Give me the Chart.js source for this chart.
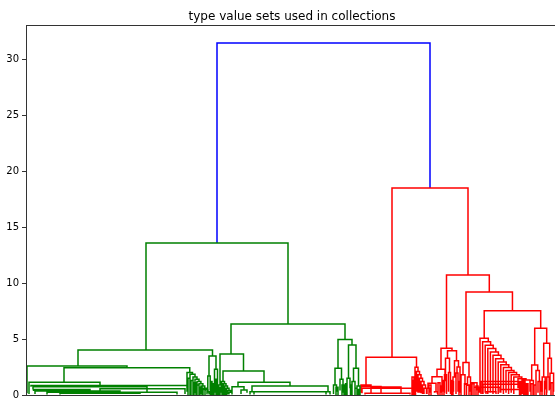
<!DOCTYPE html>
<html>
<head>
<meta charset="utf-8">
<script src="https://cdn.jsdelivr.net/npm/chart.js@4"></script>
<style>
  html, body { margin: 0; padding: 0; overflow: hidden; background: #fff; }
</style>
</head>
<body>
<canvas id="dendro" width="560" height="420"></canvas>
<script>
const chartTitle = "type value sets used in collections";
const yTicks = [0, 5, 10, 15, 20, 25, 30];

// each link: [xLeft, xRight, heightLeft, heightRight, heightTop]
const blueLinks = [
  [191, 404, 13.58, 18.5, 31.46]
];

const greenLinks = [
  [120, 262, 4.02, 6.35, 13.58],
  [52, 186.5, 2.59, 3.49, 4.02],
  [205, 319, 3.66, 4.97, 6.35],
  [1, 101, 0.15, 2.44, 2.59],
  [38, 163.75, 1.13, 2.0, 2.44],
  [3, 74, 0.1, 0.86, 1.13],
  [5, 162, 0.74, 0.3, 0.86],
  [7, 121, 0.5, 0.2, 0.74],
  [7.5, 64, 0.36, 0.15, 0.5],
  [9, 94, 0.1, 0.1, 0.36],
  [21, 151, 0.05, 0.05, 0.25],
  [74, 159, 0.1, 0.1, 0.55],
  [34, 114, 0.05, 0.1, 0.15],
  [161, 166.5, 0.3, 1.85, 2.0],
  [164, 169, 0.2, 1.6, 1.85],
  [167, 171, 0.2, 1.4, 1.6],
  [169, 173, 0.15, 1.2, 1.4],
  [171, 174.9, 0.15, 1.0, 1.2],
  [173, 176.9, 0.1, 0.8, 1.0],
  [175, 178.75, 0.1, 0.6, 0.8],
  [177, 180.5, 0.1, 0.45, 0.6],
  [179, 182, 0.1, 0.3, 0.45],
  [181, 183, 0.05, 0.05, 0.3],
  [162, 164, 0, 0, 1.5],
  [165, 167, 0, 0, 1.3],
  [168, 170, 0, 0, 1.1],
  [171, 173, 0, 0, 0.9],
  [174, 176, 0, 0, 0.7],
  [177, 179, 0, 0, 0.5],
  [183, 190, 1.7, 2.3, 3.49],
  [181.8, 184.2, 0.2, 0.4, 1.7],
  [188.5, 191.5, 0.8, 0.3, 2.3],
  [187.5, 189.5, 0.1, 0.2, 0.8],
  [184.5, 186, 0, 0, 1.2],
  [186.5, 188, 0, 0, 1.0],
  [190, 191.5, 0, 0, 1.4],
  [192.5, 194, 0, 0, 0.7],
  [196, 197.5, 0, 0, 0.9],
  [199, 200.5, 0, 0, 0.5],
  [194, 217.5, 0.9, 2.14, 3.66],
  [192.5, 195.5, 0.2, 0.4, 0.9],
  [197, 238, 1.2, 1.15, 2.14],
  [195.5, 198.5, 0.2, 1.0, 1.2],
  [197, 200, 0.15, 0.8, 1.0],
  [198.5, 201.5, 0.1, 0.6, 0.8],
  [200, 203, 0.1, 0.4, 0.6],
  [201.5, 204.5, 0.05, 0.25, 0.4],
  [203, 206, 0.05, 0.05, 0.25],
  [212, 264, 0.74, 0.8, 1.15],
  [206, 218, 0.2, 0.45, 0.74],
  [215, 221, 0.1, 0.2, 0.45],
  [226, 302, 0.3, 0.3, 0.8],
  [224, 228, 0.05, 0.1, 0.3],
  [300, 304, 0.1, 0.05, 0.3],
  [228, 300, 0.05, 0.05, 0.28],
  [312, 326, 2.38, 4.47, 4.97],
  [309, 315.5, 0.9, 1.4, 2.38],
  [307.5, 310.5, 0.1, 0.3, 0.9],
  [314, 317, 0.4, 0.2, 1.4],
  [322.5, 330, 1.5, 2.38, 4.47],
  [321, 324, 0.3, 0.6, 1.5],
  [327.5, 332.5, 1.2, 0.8, 2.38],
  [326, 329, 0.2, 0.4, 1.2],
  [331, 334, 0.3, 0.1, 0.8],
  [318.5, 320.5, 0.1, 0.1, 0.9],
  [310, 312, 0, 0, 0.7],
  [316, 318, 0, 0, 0.9],
  [319.5, 321, 0, 0, 1.0],
  [324.5, 326, 0, 0, 0.9],
  [329, 331, 0, 0, 0.6],
  [332.5, 334, 0, 0, 0.5]
];

const redLinks = [
  [366, 442, 3.37, 10.72, 18.5],
  [340, 390.5, 0.9, 2.47, 3.37],
  [335, 345, 0.2, 0.75, 0.9],
  [335, 355, 0.6, 0.1, 0.75],
  [336, 386, 0.15, 0.15, 0.6],
  [339, 384, 0.05, 0.05, 0.15],
  [345, 375, 0.1, 0.1, 0.72],
  [389, 392, 0.3, 2.1, 2.47],
  [390.5, 393.5, 0.3, 1.8, 2.1],
  [392, 395, 0.2, 1.5, 1.8],
  [393.5, 396.5, 0.2, 1.2, 1.5],
  [395, 398, 0.15, 0.9, 1.2],
  [396.5, 399.5, 0.1, 0.6, 0.9],
  [398, 401, 0.1, 0.1, 0.6],
  [386, 388, 0, 0, 1.6],
  [387.5, 389.5, 0, 0, 1.3],
  [420.5, 463.3, 4.17, 9.2, 10.72],
  [415, 426, 2.3, 3.96, 4.17],
  [411, 419, 1.64, 1.3, 2.3],
  [406, 416, 1.05, 0.8, 1.64],
  [402, 410, 0.6, 0.3, 1.05],
  [400.5, 403.5, 0.1, 0.2, 0.6],
  [408.5, 411.5, 0.2, 0.1, 0.3],
  [414.5, 417.5, 0.2, 0.3, 0.8],
  [417.5, 420.5, 0.3, 0.1, 1.3],
  [403, 405, 0, 0, 0.9],
  [412, 414, 0, 0, 1.1],
  [416, 418, 0, 0, 1.0],
  [421.5, 430.5, 3.28, 3.07, 3.96],
  [419.5, 423.5, 1.8, 2.0, 3.28],
  [418.5, 420.5, 0.2, 0.6, 1.8],
  [422.5, 424.5, 0.3, 0.2, 2.0],
  [428.5, 432.5, 1.6, 2.5, 3.07],
  [427, 430, 0.2, 0.5, 1.6],
  [431, 434, 1.96, 0.2, 2.5],
  [430, 432, 0.1, 0.3, 1.96],
  [424.5, 427.5, 0.1, 0.3, 1.2],
  [425.5, 427, 0, 0, 1.3],
  [433, 435, 0, 0, 1.2],
  [440, 486.45, 2.9, 7.53, 9.2],
  [437, 443, 1.8, 1.6, 2.9],
  [435, 439, 0.3, 0.9, 1.8],
  [441.5, 444.5, 0.8, 0.3, 1.6],
  [445, 451, 0.2, 0.4, 1.1],
  [448, 452.5, 0.1, 0.2, 0.7],
  [438.5, 440.5, 0, 0, 1.0],
  [443, 445, 0, 0, 0.9],
  [446, 448, 0, 0, 1.0],
  [450, 452, 0, 0, 0.8],
  [458.2, 514.7, 5.07, 5.96, 7.53],
  [454, 462.3, 0.2, 4.75, 5.07],
  [456.6, 464.6, 0.1, 4.45, 4.75],
  [459.2, 467.2, 0.2, 4.15, 4.45],
  [461.8, 469.8, 0.1, 3.85, 4.15],
  [464.4, 472.4, 0.2, 3.55, 3.85],
  [467, 475, 0.1, 3.25, 3.55],
  [469.6, 477.6, 0.2, 2.95, 3.25],
  [472.2, 480.2, 0.1, 2.7, 2.95],
  [474.8, 482.8, 0.2, 2.45, 2.7],
  [477.4, 485.4, 0.1, 2.2, 2.45],
  [480, 488, 0.2, 2.0, 2.2],
  [482.6, 490.6, 0.1, 1.8, 2.0],
  [485.2, 493.2, 0.2, 1.6, 1.8],
  [487.8, 495.8, 0.1, 1.45, 1.6],
  [492, 500, 0.6, 1.35, 1.45],
  [496, 504, 0.8, 0.5, 1.35],
  [455, 496, 0.1, 0.1, 1.2],
  [457, 494, 0.1, 0.1, 0.95],
  [455, 474, 0.2, 0.2, 0.7],
  [474, 494, 0.2, 0.1, 0.5],
  [460, 470, 0.1, 0.1, 0.3],
  [493.5, 495, 0, 0, 1.1],
  [497.5, 499, 0, 0, 1.2],
  [500.5, 502, 0, 0, 1.0],
  [508.7, 520.7, 2.68, 4.62, 5.96],
  [505.7, 511.7, 1.3, 2.2, 2.68],
  [504, 507.4, 0.3, 0.2, 1.3],
  [510, 513.4, 0.4, 1.2, 2.2],
  [512, 514.8, 0.2, 0.3, 1.2],
  [505, 507, 0, 0, 1.0],
  [508, 510, 0, 0, 0.9],
  [514, 516, 0, 0, 1.1],
  [517.7, 523.7, 1.6, 3.28, 4.62],
  [516.2, 519.2, 0.3, 0.5, 1.6],
  [518.5, 520.5, 0, 0, 1.2],
  [522, 525.4, 1.6, 1.94, 3.28],
  [520.8, 523.2, 0.2, 0.4, 1.6],
  [524, 527.6, 0.5, 0.3, 1.94],
  [525, 527, 0, 0, 1.1]
];

// turn links into U shaped paths, null breaks the line between links
function toPoints(links) {
  const pts = [];
  links.forEach(l => {
    pts.push({ x: l[0], y: l[2] });
    pts.push({ x: l[0], y: l[4] });
    pts.push({ x: l[1], y: l[4] });
    pts.push({ x: l[1], y: l[3] });
    pts.push({ x: l[1], y: null });
  });
  return pts;
}

function linkSet(links, color) {
  return {
    data: toPoints(links),
    borderColor: color,
    borderWidth: 1.5,
    pointRadius: 0,
    fill: false,
    tension: 0,
    spanGaps: false
  };
}

// axes frame and title, drawn like matplotlib
const framePlugin = {
  id: "frame",
  afterDraw(chart) {
    const ctx = chart.ctx;
    const a = chart.chartArea;
    ctx.save();
    ctx.strokeStyle = "#333";
    ctx.lineWidth = 1;
    ctx.strokeRect(Math.round(a.left) + 0.5, Math.round(a.top) + 0.5,
      Math.round(a.right - a.left), Math.round(a.bottom - a.top));
    ctx.fillStyle = "#000";
    ctx.font = '12px "DejaVu Sans"';
    ctx.textAlign = "center";
    ctx.textBaseline = "alphabetic";
    ctx.fillText(chartTitle, (a.left + a.right) / 2, 20);
    ctx.restore();
  }
};

new Chart(document.getElementById("dendro"), {
  type: "line",
  data: {
    datasets: [
      linkSet(greenLinks, "#008000"),
      linkSet(redLinks, "#ff0000"),
      linkSet(blueLinks, "#0000ff")
    ]
  },
  options: {
    responsive: false,
    animation: false,
    devicePixelRatio: 1,
    layout: { padding: { top: 25, right: 2, bottom: 25, left: 0 } },
    plugins: { legend: { display: false }, tooltip: { enabled: false } },
    scales: {
      x: { type: "linear", min: 0, max: 532, display: false },
      y: {
        min: 0,
        max: 33.07,
        afterFit(scale) { scale.width = 26; },
        afterBuildTicks(scale) { scale.ticks = yTicks.map(v => ({ value: v })); },
        ticks: { font: { family: "DejaVu Sans", size: 10 }, color: "#000", padding: 3 },
        grid: { drawOnChartArea: false, tickLength: 4, color: "#333" },
        border: { display: false }
      }
    }
  },
  plugins: [framePlugin]
});
</script>
</body>
</html>
